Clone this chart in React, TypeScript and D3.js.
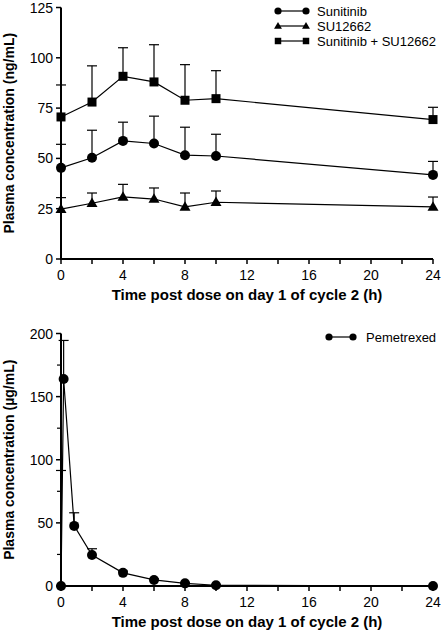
import React from "react";
import * as d3 from "d3";

// ---------- Data ----------
const timesTop = [0, 2, 4, 6, 8, 10, 24];
const sunitinib = [45.3, 50.3, 58.7, 57.4, 51.6, 51.2, 41.8];
const sunitinibUpper = [57, 64, 68, 71, 65.5, 62, 48.5];
const su12662 = [24.8, 27.7, 30.9, 29.8, 25.9, 28.2, 25.9];
const su12662Upper = [30.5, 32.8, 37.1, 35.3, 32.8, 33.8, 30.8];
const combo = [70.6, 78, 90.8, 88, 78.9, 79.7, 69.3];
const comboUpper = [86.5, 96, 105, 106.5, 96.6, 93.6, 75.4];

const timesBottom = [0, 0.17, 0.85, 2, 4, 6, 8, 10, 24];
const pemetrexed = [0, 164, 47.6, 24.6, 10.4, 4.8, 2.1, 0.6, 0];
const pemetrexedUpper = [91.5, 194.5, 58, 29.5, 11.8, 5.6, 2.6, 0.9, 0];

const xTickLabels = [0, 4, 8, 12, 16, 20, 24];
const xMinorTicks = [0, 2, 4, 6, 8, 10, 12, 14, 16, 18, 20, 22, 24];
const yTicksTop = [0, 25, 50, 75, 100, 125];
const yTicksBottom = [0, 50, 100, 150, 200];
const yMinorBottom = [25, 75, 125, 175];

const legendTop = ["Sunitinib", "SU12662", "Sunitinib + SU12662"];
const legendBottom = ["Pemetrexed"];

const FONT = "'Liberation Sans', Arial, Helvetica, sans-serif";

type Shape = "circle" | "triangle" | "square";

function Marker({ shape, x, y, size }: { shape: Shape; x: number; y: number; size: number }) {
  if (shape === "circle") return <circle cx={x} cy={y} r={size} fill="#000" />;
  if (shape === "square")
    return <rect x={x - size * 0.9} y={y - size * 0.9} width={size * 1.8} height={size * 1.8} fill="#000" />;
  const h = size * 1.9;
  const w = size * 1.1;
  return (
    <path
      d={`M${x},${y - h * 0.6} L${x + w},${y + h * 0.4} L${x - w},${y + h * 0.4} Z`}
      fill="#000"
    />
  );
}

function Series({
  xs, ys, ups, shape, x, y,
}: {
  xs: number[]; ys: number[]; ups: number[]; shape: Shape;
  x: d3.ScaleLinear<number, number>; y: d3.ScaleLinear<number, number>;
}) {
  const line = d3
    .line<number>()
    .x((_, i) => x(xs[i]))
    .y((d) => y(d));
  return (
    <g>
      {ups.map((u, i) =>
        u > ys[i] ? (
          <g key={"e" + i} stroke="#000" strokeWidth={1.2}>
            <line x1={x(xs[i])} x2={x(xs[i])} y1={y(ys[i])} y2={y(u)} />
            <line x1={x(xs[i]) - 5} x2={x(xs[i]) + 5} y1={y(u)} y2={y(u)} />
          </g>
        ) : null
      )}
      <path d={line(ys) || ""} fill="none" stroke="#000" strokeWidth={1.2} />
      {ys.map((v, i) => (
        <Marker key={i} shape={shape} x={x(xs[i])} y={y(v)} size={5} />
      ))}
    </g>
  );
}

function Axes({
  x, y, yTicks, yMinor, yTitle,
}: {
  x: d3.ScaleLinear<number, number>; y: d3.ScaleLinear<number, number>;
  yTicks: number[]; yMinor: number[]; yTitle: string;
}) {
  const [x0, x1] = x.range();
  const [yb, yt] = y.range();
  return (
    <g fontFamily={FONT} fill="#000">
      {/* axis lines */}
      <line x1={x0} x2={x0} y1={yt} y2={yb} stroke="#000" strokeWidth={2} />
      <line x1={x0 - 1} x2={x1} y1={yb} y2={yb} stroke="#000" strokeWidth={2} />
      {/* y ticks */}
      {yTicks.map((t) => (
        <g key={"yt" + t}>
          <line x1={x0 - 5} x2={x0} y1={y(t)} y2={y(t)} stroke="#000" strokeWidth={1.5} />
          <text x={x0 - 8} y={y(t)} dy="0.36em" textAnchor="end" fontSize={14}>
            {t}
          </text>
        </g>
      ))}
      {yMinor.map((t) => (
        <line key={"ym" + t} x1={x0 - 4} x2={x0} y1={y(t)} y2={y(t)} stroke="#000" strokeWidth={1.2} />
      ))}
      {/* x ticks */}
      {xMinorTicks.map((t) => (
        <line key={"xm" + t} x1={x(t)} x2={x(t)} y1={yb} y2={yb + 5} stroke="#000" strokeWidth={1.5} />
      ))}
      {xTickLabels.map((t) => (
        <text key={"xl" + t} x={x(t)} y={yb + 21} textAnchor="middle" fontSize={14}>
          {t}
        </text>
      ))}
      <text
        x={(x0 + x1) / 2}
        y={yb + 41}
        textAnchor="middle"
        fontSize={15}
        fontWeight="bold"
      >
        Time post dose on day 1 of cycle 2 (h)
      </text>
      <text
        transform={`translate(14,${(yt + yb) / 2}) rotate(-90)`}
        textAnchor="middle"
        fontSize={14}
        fontWeight="bold"
      >
        {yTitle}
      </text>
    </g>
  );
}

function LegendItem({
  x, y, shape, label, len, gap,
}: { x: number; y: number; shape: Shape; label: string; len: number; gap: number }) {
  return (
    <g>
      <line x1={x} x2={x + len} y1={y} y2={y} stroke="#000" strokeWidth={1.2} />
      <Marker shape={shape} x={x} y={y} size={3.6} />
      <Marker shape={shape} x={x + len} y={y} size={3.6} />
      <text x={x + len + gap} y={y} dy="0.36em" fontSize={13} fontFamily={FONT} fill="#000">
        {label}
      </text>
    </g>
  );
}

export default function App() {
  const xTop = d3.scaleLinear().domain([0, 24]).range([61, 433]);
  const yTop = d3.scaleLinear().domain([0, 125]).range([259, 7.5]);
  const xBot = d3.scaleLinear().domain([0, 24]).range([61, 433]);
  const yBot = d3.scaleLinear().domain([0, 200]).range([586, 333.5]);
  const shapes: Shape[] = ["circle", "triangle", "square"];
  const legendYs = [11, 26, 41];

  return (
    <svg
      width={441}
      height={630}
      style={{ position: "absolute", left: 0, top: 0, background: "#fff" }}
    >
      <rect width={441} height={630} fill="#fff" />
      {/* Top chart */}
      <Axes x={xTop} y={yTop} yTicks={yTicksTop} yMinor={[]} yTitle="Plasma concentration (ng/mL)" />
      <Series xs={timesTop} ys={sunitinib} ups={sunitinibUpper} shape="circle" x={xTop} y={yTop} />
      <Series xs={timesTop} ys={su12662} ups={su12662Upper} shape="triangle" x={xTop} y={yTop} />
      <Series xs={timesTop} ys={combo} ups={comboUpper} shape="square" x={xTop} y={yTop} />
      {legendTop.map((l, i) => (
        <LegendItem key={l} x={278} y={legendYs[i]} shape={shapes[i]} label={l} len={28} gap={11} />
      ))}

      {/* Bottom chart */}
      <Axes
        x={xBot}
        y={yBot}
        yTicks={yTicksBottom}
        yMinor={yMinorBottom}
        yTitle="Plasma concentration (µg/mL)"
      />
      <Series xs={timesBottom} ys={pemetrexed} ups={pemetrexedUpper} shape="circle" x={xBot} y={yBot} />
      {legendBottom.map((l) => (
        <LegendItem key={l} x={329} y={337} shape="circle" label={l} len={24} gap={13} />
      ))}
    </svg>
  );
}
